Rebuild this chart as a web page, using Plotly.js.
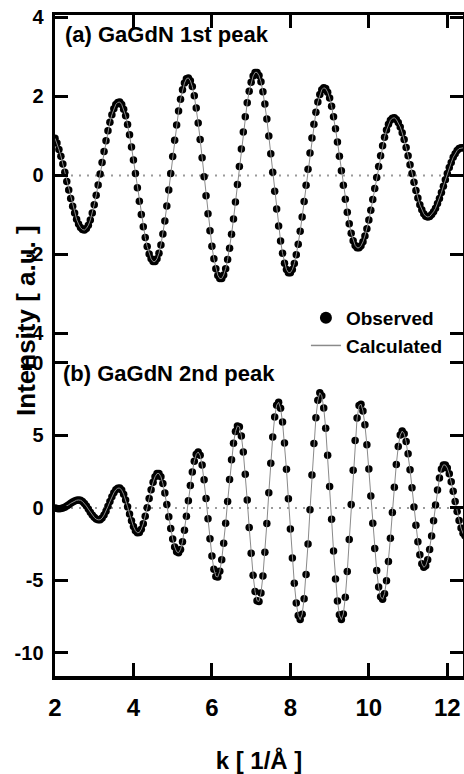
<!DOCTYPE html>
<html>
<head>
<meta charset="utf-8">
<script src="https://cdn.plot.ly/plotly-3.0.1.min.js"></script>
<style>html,body{margin:0;padding:0;background:#fff;}#chart{width:464px;height:774px;}</style>
</head>
<body>
<div id="chart"></div>
<script>
// k grid [1/Å]
const k = [
2,2.05,2.1,2.15,2.2,2.25,2.3,2.35,2.4,2.45,2.5,2.55,2.6,2.65,2.7,2.75,2.8,2.85,2.9,2.95,
3,3.05,3.1,3.15,3.2,3.25,3.3,3.35,3.4,3.45,3.5,3.55,3.6,3.65,3.7,3.75,3.8,3.85,3.9,3.95,
4,4.05,4.1,4.15,4.2,4.25,4.3,4.35,4.4,4.45,4.5,4.55,4.6,4.65,4.7,4.75,4.8,4.85,4.9,4.95,
5,5.05,5.1,5.15,5.2,5.25,5.3,5.35,5.4,5.45,5.5,5.55,5.6,5.65,5.7,5.75,5.8,5.85,5.9,5.95,
6,6.05,6.1,6.15,6.2,6.25,6.3,6.35,6.4,6.45,6.5,6.55,6.6,6.65,6.7,6.75,6.8,6.85,6.9,6.95,
7,7.05,7.1,7.15,7.2,7.25,7.3,7.35,7.4,7.45,7.5,7.55,7.6,7.65,7.7,7.75,7.8,7.85,7.9,7.95,
8,8.05,8.1,8.15,8.2,8.25,8.3,8.35,8.4,8.45,8.5,8.55,8.6,8.65,8.7,8.75,8.8,8.85,8.9,8.95,
9,9.05,9.1,9.15,9.2,9.25,9.3,9.35,9.4,9.45,9.5,9.55,9.6,9.65,9.7,9.75,9.8,9.85,9.9,9.95,
10,10.05,10.1,10.15,10.2,10.25,10.3,10.35,10.4,10.45,10.5,10.55,10.6,10.65,10.7,10.75,10.8,10.85,10.9,10.95,
11,11.05,11.1,11.15,11.2,11.25,11.3,11.35,11.4,11.45,11.5,11.55,11.6,11.65,11.7,11.75,11.8,11.85,11.9,11.95,
12,12.05,12.1,12.15,12.2,12.25,12.3,12.35,12.4,12.45
];

// (a) GaGdN 1st peak
const peak1Obs = [
0.94,0.82,0.66,0.49,0.29,0.08,-0.15,-0.37,-0.58,-0.78,-0.95,-1.11,-1.23,-1.32,-1.37,-1.38,-1.34,-1.26,-1.13,-0.95,
-0.74,-0.50,-0.24,0.04,0.33,0.61,0.88,1.13,1.35,1.54,1.69,1.80,1.85,1.86,1.80,1.68,1.51,1.29,1.03,0.72,
0.39,0.05,-0.31,-0.65,-0.99,-1.30,-1.57,-1.80,-1.99,-2.11,-2.18,-2.18,-2.11,-1.97,-1.76,-1.48,-1.15,-0.77,-0.37,0.05,
0.48,0.89,1.28,1.63,1.93,2.17,2.34,2.45,2.47,2.40,2.25,2.02,1.71,1.33,0.91,0.45,-0.03,-0.51,-0.97,-1.40,
-1.79,-2.11,-2.36,-2.53,-2.61,-2.61,-2.52,-2.36,-2.13,-1.84,-1.49,-1.10,-0.67,-0.23,0.23,0.67,1.10,1.49,1.84,2.13,
2.36,2.52,2.61,2.61,2.53,2.37,2.12,1.81,1.43,1.00,0.55,0.08,-0.40,-0.85,-1.28,-1.66,-1.97,-2.22,-2.38,-2.46,
-2.46,-2.38,-2.23,-2.01,-1.74,-1.41,-1.05,-0.66,-0.25,0.16,0.57,0.95,1.30,1.60,1.86,2.05,2.17,2.22,2.20,2.11,
1.96,1.75,1.49,1.18,0.85,0.49,0.12,-0.25,-0.60,-0.93,-1.22,-1.46,-1.65,-1.77,-1.83,-1.83,-1.78,-1.68,-1.53,-1.35,
-1.13,-0.88,-0.61,-0.33,-0.05,0.23,0.50,0.75,0.97,1.15,1.30,1.40,1.45,1.46,1.42,1.34,1.23,1.08,0.91,0.71,
0.50,0.27,0.05,-0.17,-0.38,-0.57,-0.74,-0.87,-0.97,-1.03,-1.05,-1.04,-0.99,-0.92,-0.83,-0.71,-0.58,-0.43,-0.27,-0.11,
0.05,0.20,0.33,0.46,0.55,0.63,0.68,0.70,0.70,0.69
];
const peak1Calc = peak1Obs.slice();

// (b) GaGdN 2nd peak
const peak2Obs = [
0.00,-0.03,-0.05,-0.04,-0.01,0.05,0.13,0.22,0.32,0.41,0.48,0.53,0.55,0.53,0.45,0.31,0.13,-0.08,-0.29,-0.48,
-0.65,-0.77,-0.82,-0.81,-0.70,-0.49,-0.22,0.11,0.44,0.77,1.04,1.25,1.36,1.37,1.23,0.94,0.55,0.08,-0.42,-0.89,
-1.28,-1.57,-1.71,-1.69,-1.47,-1.09,-0.58,0.02,0.66,1.26,1.77,2.15,2.37,2.38,2.15,1.68,1.03,0.24,-0.60,-1.42,
-2.14,-2.69,-3.02,-3.09,-2.87,-2.33,-1.54,-0.57,0.49,1.54,2.48,3.22,3.70,3.86,3.63,2.97,1.94,0.65,-0.75,-2.13,
-3.32,-4.22,-4.72,-4.76,-4.37,-3.57,-2.43,-1.06,0.45,1.96,3.33,4.47,5.27,5.66,5.60,4.97,3.85,2.32,0.54,-1.34,
-3.12,-4.65,-5.77,-6.40,-6.45,-5.87,-4.70,-3.05,-1.08,1.04,3.09,4.89,6.27,7.09,7.29,6.88,5.92,4.48,2.67,0.64,
-1.45,-3.45,-5.20,-6.55,-7.41,-7.70,-7.33,-6.26,-4.59,-2.48,-0.12,2.27,4.45,6.22,7.42,7.94,7.74,6.90,5.49,3.64,
1.48,-0.78,-2.97,-4.90,-6.41,-7.37,-7.70,-7.31,-6.16,-4.39,-2.18,0.24,2.60,4.66,6.20,7.06,7.16,6.69,5.73,4.35,
2.68,0.83,-1.05,-2.80,-4.32,-5.46,-6.13,-6.29,-5.91,-5.02,-3.70,-2.09,-0.32,1.43,3.00,4.24,5.03,5.30,5.12,4.58,
3.73,2.64,1.39,0.07,-1.20,-2.33,-3.23,-3.84,-4.09,-3.99,-3.57,-2.86,-1.93,-0.88,0.21,1.23,2.07,2.68,2.97,2.96,
2.75,2.35,1.80,1.15,0.45,-0.24,-0.87,-1.39,-1.75,-1.93
];
const peak2Calc = peak2Obs.slice();

// ticks
const xTickVals = [2, 4, 6, 8, 10, 12];
const xTickText = ["2", "4", "6", "8", "10", "12"];
const y1TickVals = [-4, -2, 0, 2, 4];
const y1TickText = ["-4", "-2", "0", "2", "4"];
const y2TickVals = [-10, -5, 0, 5, 10];
const y2TickText = ["-10", "-5", "0", "5", "10"];

const labels = {
  a: "(a) GaGdN 1st peak",
  b: "(b) GaGdN 2nd peak",
  obs: "Observed",
  calc: "Calculated",
  xTitle: "k [ 1/Å ]",
  yTitle: "Intensity [ a.u. ]"
};

const FONT = "Liberation Sans, Arial, sans-serif";
const dotColor = "#000000";
const lineColor = "#8a8a8a";

const traces = [
  {x: k, y: peak1Obs, xaxis: "x2", yaxis: "y", mode: "markers", type: "scatter",
   marker: {color: dotColor, size: 7.5}, showlegend: false, hoverinfo: "skip"},
  {x: k, y: peak1Calc, xaxis: "x2", yaxis: "y", mode: "lines", type: "scatter",
   line: {color: lineColor, width: 1}, showlegend: false, hoverinfo: "skip"},
  {x: k, y: peak2Obs, xaxis: "x", yaxis: "y2", mode: "markers", type: "scatter",
   marker: {color: dotColor, size: 7.5}, showlegend: false, hoverinfo: "skip"},
  {x: k, y: peak2Calc, xaxis: "x", yaxis: "y2", mode: "lines", type: "scatter",
   line: {color: lineColor, width: 1}, showlegend: false, hoverinfo: "skip"},
  {x: [null], y: [null], xaxis: "x", yaxis: "y2", mode: "markers", type: "scatter",
   name: labels.obs, marker: {color: dotColor, size: 12}},
  {x: [null], y: [null], xaxis: "x", yaxis: "y2", mode: "lines", type: "scatter",
   name: labels.calc, line: {color: lineColor, width: 1.5}}
];

const split = 0.5008;
const axisCommon = {
  showline: true, linewidth: 3.5, linecolor: "#000",
  ticks: "inside", ticklen: 13, tickwidth: 3, tickcolor: "#000",
  showgrid: false, zeroline: false
};

const layout = {
  width: 464, height: 774,
  margin: {l: 55, r: 1, t: 15, b: 98},
  paper_bgcolor: "#fff", plot_bgcolor: "#fff",
  font: {family: FONT, color: "#000"},
  showlegend: true,
  legend: {
    x: 0.615, y: 0.5705, xanchor: "left", yanchor: "top",
    bgcolor: "rgba(0,0,0,0)", borderwidth: 0,
    font: {family: FONT, size: 19, weight: 700, color: "#000"},
    tracegroupgap: 0
  },
  xaxis: Object.assign({}, axisCommon, {
    anchor: "y2", domain: [0, 1], range: [2, 12.4],
    tickmode: "array", tickvals: xTickVals, ticktext: xTickText,
    tickfont: {family: FONT, size: 24, weight: 700},
    ticklabelstandoff: 8,
    title: {text: labels.xTitle, font: {family: FONT, size: 24, weight: 700}, standoff: 33}
  }),
  xaxis2: Object.assign({}, axisCommon, {
    anchor: "y", side: "top", matches: "x", domain: [0, 1], range: [2, 12.4],
    tickmode: "array", tickvals: xTickVals, showticklabels: false
  }),
  yaxis: Object.assign({}, axisCommon, {
    anchor: "x2", domain: [split, 1], range: [-4.291, 4.063], mirror: "ticks",
    tickmode: "array", tickvals: y1TickVals, ticktext: y1TickText,
    tickfont: {family: FONT, size: 20, weight: 700}, ticklabelstandoff: 4
  }),
  yaxis2: Object.assign({}, axisCommon, {
    anchor: "x", domain: [0, split], range: [-11.59, 11.24], mirror: "ticks",
    tickmode: "array", tickvals: y2TickVals, ticktext: y2TickText,
    tickfont: {family: FONT, size: 20, weight: 700}, ticklabelstandoff: 4
  }),
  shapes: [
    {type: "line", xref: "x2 domain", x0: 0, x1: 1, yref: "y", y0: 0, y1: 0,
     line: {color: "#9a9a9a", width: 2, dash: "2px,6px"}, layer: "below"},
    {type: "line", xref: "x domain", x0: 0, x1: 1, yref: "y2", y0: 0, y1: 0,
     line: {color: "#9a9a9a", width: 2, dash: "2px,6px"}, layer: "below"}
  ],
  annotations: [
    {text: labels.a, xref: "paper", yref: "paper", x: 0.0196, y: 0.970,
     xanchor: "left", yanchor: "middle", showarrow: false,
     font: {family: FONT, size: 22, weight: 700, color: "#000"}},
    {text: labels.b, xref: "paper", yref: "paper", x: 0.0147, y: 0.4570,
     xanchor: "left", yanchor: "middle", showarrow: false,
     font: {family: FONT, size: 22, weight: 700, color: "#000"}},
    {text: labels.yTitle, xref: "paper", yref: "paper", x: -0.0711, y: 0.5386,
     xanchor: "center", yanchor: "middle", textangle: -90, showarrow: false,
     font: {family: FONT, size: 26, weight: 700, color: "#000"}}
  ]
};

Plotly.newPlot("chart", traces, layout, {displayModeBar: false, staticPlot: true});
</script>
</body>
</html>
